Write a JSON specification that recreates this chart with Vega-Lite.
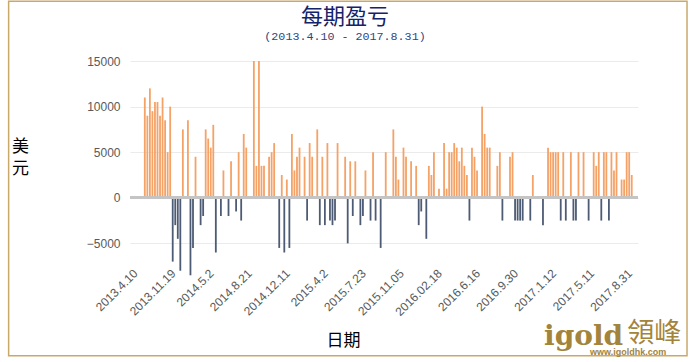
{
  "$schema": "https://vega.github.io/schema/vega-lite/v6.json",
  "width": 508,
  "height": 207,
  "autosize": {"type": "none"},
  "padding": {"left": 130, "top": 61, "right": 57, "bottom": 94},
  "background": "#ffffff",
  "config": {
    "view": {"stroke": null},
    "axisX": {"labelOverlap": false, "labelBound": false, "labelFlush": false}
  },
  "title": {
    "text": "每期盈亏",
    "subtitle": "(2013.4.10 - 2017.8.31)",
    "anchor": "middle",
    "frame": "group",
    "dx": -39,
    "offset": -43,
    "font": "Noto Sans CJK SC",
    "fontSize": 22,
    "fontWeight": "normal",
    "color": "#14236a",
    "subtitleFont": "Liberation Mono",
    "subtitleFontSize": 11.7,
    "subtitleColor": "#35447c",
    "subtitlePadding": 2
  },
  "data": {
    "values": [
      {"i":0,"v":11000},{"i":1,"v":9000},{"i":2,"v":12000},{"i":3,"v":9500},{"i":4,"v":10500},{"i":5,"v":10500},{"i":6,"v":9000},{"i":7,"v":11000},{"i":8,"v":8500},{"i":9,"v":5000},{"i":10,"v":10000},
      {"i":11,"v":-7000},{"i":12,"v":-3000},{"i":13,"v":-4500},{"i":14,"v":-8000},{"i":15,"v":7500},{"i":17,"v":8500},{"i":18,"v":-8500},{"i":19,"v":-5500},{"i":20,"v":4500},
      {"i":22,"v":-3000},{"i":23,"v":-2000},{"i":24,"v":7500},{"i":25,"v":6500},{"i":26,"v":5500},{"i":27,"v":8000},{"i":28,"v":-6000},{"i":30,"v":-2000},{"i":31,"v":3000},
      {"i":33,"v":-2000},{"i":34,"v":4000},{"i":36,"v":-1500},{"i":37,"v":5000},{"i":38,"v":-2500},{"i":39,"v":7000},{"i":40,"v":5500},
      {"i":43,"v":15000},{"i":44,"v":3500},{"i":45,"v":15000},{"i":46,"v":3500},{"i":47,"v":3500},{"i":49,"v":4500},{"i":50,"v":5000},{"i":51,"v":6000},
      {"i":53,"v":-5500},{"i":54,"v":2500},{"i":55,"v":-6000},{"i":56,"v":2000},{"i":57,"v":-5500},{"i":58,"v":7000},{"i":59,"v":3000},{"i":60,"v":4500},{"i":61,"v":5500},
      {"i":63,"v":4500},{"i":64,"v":-2500},{"i":65,"v":6000},{"i":66,"v":4500},{"i":68,"v":7500},{"i":69,"v":-3000},{"i":70,"v":4500},{"i":71,"v":-3000},{"i":72,"v":6000},
      {"i":73,"v":-2500},{"i":74,"v":-3000},{"i":75,"v":-2500},{"i":76,"v":6000},{"i":79,"v":4500},{"i":80,"v":-5000},{"i":81,"v":4000},{"i":82,"v":-2000},{"i":83,"v":4000},
      {"i":85,"v":-3000},{"i":86,"v":-2000},{"i":87,"v":3000},{"i":89,"v":-2500},{"i":90,"v":5000},{"i":91,"v":-2500},{"i":93,"v":-5500},{"i":95,"v":5000},
      {"i":98,"v":7500},{"i":99,"v":4500},{"i":100,"v":2000},{"i":102,"v":5500},{"i":103,"v":4500},{"i":105,"v":4000},{"i":107,"v":3500},{"i":108,"v":-3000},{"i":109,"v":-1500},
      {"i":111,"v":-4500},{"i":112,"v":3500},{"i":113,"v":2500},{"i":114,"v":5000},{"i":116,"v":1000},{"i":118,"v":6000},{"i":119,"v":1000},{"i":120,"v":5000},{"i":121,"v":5000},
      {"i":122,"v":6000},{"i":123,"v":5500},{"i":124,"v":4000},{"i":125,"v":5500},{"i":126,"v":3500},{"i":127,"v":2500},{"i":128,"v":-2500},{"i":129,"v":5500},{"i":130,"v":4500},
      {"i":131,"v":3000},{"i":133,"v":10000},{"i":134,"v":7000},{"i":135,"v":5500},{"i":136,"v":5500},{"i":139,"v":3500},{"i":140,"v":5000},{"i":141,"v":-2500},
      {"i":144,"v":4500},{"i":145,"v":5000},{"i":146,"v":-2500},{"i":147,"v":-2500},{"i":148,"v":-2500},{"i":149,"v":-2500},{"i":152,"v":-2500},{"i":153,"v":2500},
      {"i":157,"v":-3000},{"i":159,"v":5500},{"i":160,"v":5000},{"i":161,"v":5000},{"i":162,"v":5000},{"i":163,"v":5000},{"i":164,"v":-2500},{"i":165,"v":5000},{"i":166,"v":-2500},
      {"i":168,"v":5000},{"i":169,"v":-2500},{"i":170,"v":-2500},{"i":171,"v":5000},{"i":173,"v":5000},{"i":175,"v":-2500},{"i":177,"v":5000},{"i":178,"v":3500},{"i":179,"v":5000},
      {"i":180,"v":-2500},{"i":181,"v":5000},{"i":182,"v":5000},{"i":183,"v":-2500},{"i":184,"v":5000},{"i":185,"v":3000},{"i":186,"v":5000},{"i":188,"v":2000},{"i":189,"v":2000},
      {"i":190,"v":5000},{"i":191,"v":5000},{"i":192,"v":2500}
    ]
  },
  "layer": [
    {
      "mark": {"type": "bar", "width": 1.8},
      "encoding": {
        "x": {
          "field": "i",
          "type": "quantitative",
          "scale": {"domain": [-3.87, 192.5], "nice": false, "zero": false},
          "axis": {
            "values": [-3.8, 11.2, 26.2, 41.2, 56.2, 71.2, 86.2, 101.2, 116.2, 131.2, 146.2, 161.2, 176.2, 191.2],
            "tickCount": 30,
            "labelExpr": "['2013.4.10','2013.11.19','2014.5.2','2014.8.21','2014.12.11','2015.4.2','2015.7.23','2015.11.05','2016.02.18','2016.6.16','2016.9.30','2017.1.12','2017.5.11','2017.8.31'][round((datum.value + 3.8) / 15)]",
            "labelAngle": -45,
            "labelAlign": "right",
            "labelBaseline": "middle",
            "labelFont": "Liberation Sans",
            "labelFontSize": 12,
            "labelColor": "#595959",
            "labelPadding": 3,
            "labelOverlap": false,
            "labelBound": false,
            "labelFlush": false,
            "ticks": false,
            "domain": false,
            "grid": false,
            "title": "日期",
            "titleFont": "Noto Sans CJK SC",
            "titleFontSize": 17,
            "titleFontWeight": "normal",
            "titleColor": "#000000",
            "titleX": 213,
            "titleY": 77,
            "titleAlign": "center",
            "titleBaseline": "alphabetic"
          }
        },
        "y": {
          "field": "v",
          "type": "quantitative",
          "scale": {"domain": [-7700, 15000], "nice": false, "zero": false},
          "axis": {
            "values": [-5000, 0, 5000, 10000, 15000],
            "tickCount": 10,
            "format": "d",
            "labelFont": "Liberation Sans",
            "labelFontSize": 12,
            "labelColor": "#595959",
            "labelPadding": 10,
            "ticks": false,
            "domain": false,
            "grid": true,
            "gridColor": "#ebebeb",
            "gridWidth": 1,
            "title": ["美", "元"],
            "titleAngle": 0,
            "titleFont": "Noto Sans CJK SC",
            "titleFontSize": 17,
            "titleFontWeight": "normal",
            "titleColor": "#000000",
            "titleX": -110,
            "titleY": 90,
            "titleAlign": "center",
            "titleBaseline": "alphabetic",
            "titleLineHeight": 22
          }
        },
        "color": {
          "condition": {"test": "datum.v < 0", "value": "#4e5b74"},
          "value": "#f5a267"
        }
      }
    },
    {
      "mark": {"type": "rule", "color": "#c4c4c4", "strokeWidth": 2.5},
      "encoding": {"y": {"datum": 0}}
    },
    {
      "data": {"values": [{"label": "border"}]},
      "mark": {"type": "rect", "fill": null, "stroke": "#c9a96a", "strokeWidth": 1.5},
      "encoding": {
        "x": {"datum": -53.7},
        "x2": {"datum": 213.8},
        "y": {"datum": 21540},
        "y2": {"datum": -17330}
      }
    },
    {
      "data": {"values": [{"label": "igold"}]},
      "mark": {"type": "text", "font": "DejaVu Serif", "fontWeight": "bold", "fontSize": 28, "color": "#a3843c", "align": "right", "baseline": "alphabetic"},
      "encoding": {"text": {"field": "label"}, "x": {"datum": 188.6}, "y": {"datum": -16130}}
    },
    {
      "data": {"values": [{"label": "領峰"}]},
      "mark": {"type": "text", "font": "Noto Sans CJK TC", "fontSize": 27, "color": "#a3843c", "align": "left", "baseline": "alphabetic"},
      "encoding": {"text": {"field": "label"}, "x": {"datum": 190.2}, "y": {"datum": -15800}}
    },
    {
      "data": {"values": [{"label": "www.igoldhk.com"}]},
      "mark": {"type": "text", "font": "Liberation Sans", "fontWeight": "bold", "fontSize": 9, "color": "#a3843c", "align": "center", "baseline": "alphabetic"},
      "encoding": {"text": {"field": "label"}, "x": {"datum": 190.6}, "y": {"datum": -17250}}
    }
  ]
}
